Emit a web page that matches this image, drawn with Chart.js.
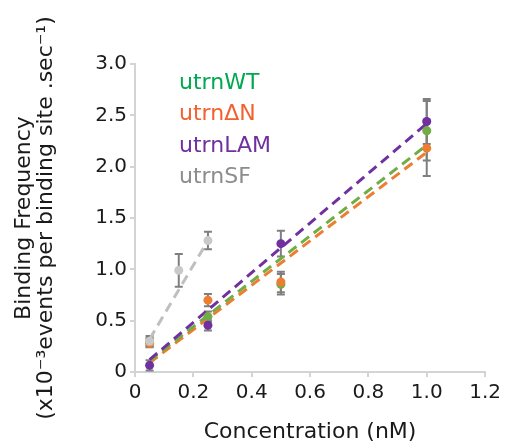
<!DOCTYPE html>
<html>
<head>
<meta charset="utf-8">
<script src="https://cdn.jsdelivr.net/npm/chart.js@4.4.0/dist/chart.umd.min.js"></script>
<style>
  html, body { margin: 0; padding: 0; background: #fff; }
  #wrap { width: 505px; height: 444px; }
</style>
</head>
<body>
<div id="wrap"><canvas id="chart"></canvas></div>
<script>
// values
var conc = [0.05, 0.25, 0.5, 1.0];
var sfConc = [0.05, 0.15, 0.25];

var wtY = [0.29, 0.54, 0.855, 2.35];
var wtErr = [0.04, 0.05, 0.10, 0.29];
var dnY = [0.28, 0.70, 0.877, 2.18];
var dnErr = [0.04, 0.06, 0.10, 0.27];
var lamY = [0.065, 0.455, 1.25, 2.44];
var lamErr = [0.05, 0.05, 0.125, 0.22];
var sfY = [0.30, 0.99, 1.28];
var sfErr = [0.05, 0.16, 0.085];

// trendline end points
var trendX = [0.05, 1.0];
var wtTrend = [0.11, 2.21];
var dnTrend = [0.09, 2.14];
var lamTrend = [0.12, 2.42];
var sfTrendX = [0.05, 0.25];
var sfTrend = [0.32, 1.28];

var labels = ['utrnWT', 'utrn\u0394N', 'utrnLAM', 'utrnSF'];
var labelColors = ['#00a84f', '#f4602e', '#7030a0', '#8c8c8c'];

function pts(xs, ys) {
  return xs.map(function (x, i) { return { x: x, y: ys[i] }; });
}

var FONT = 'DejaVu Sans';

var errorBars = {
  id: 'errorBars',
  beforeDatasetsDraw: function (chart) {
    var ctx = chart.ctx;
    var xs = chart.scales.x, ys = chart.scales.y;
    ctx.save();
    ctx.strokeStyle = '#7f7f7f';
    ctx.lineWidth = 2;
    chart.data.datasets.forEach(function (ds) {
      if (!ds.errors) return;
      ds.data.forEach(function (p, i) {
        var px = xs.getPixelForValue(p.x);
        var top = ys.getPixelForValue(p.y + ds.errors[i]);
        var bot = ys.getPixelForValue(p.y - ds.errors[i]);
        ctx.beginPath();
        ctx.moveTo(px, top); ctx.lineTo(px, bot);
        ctx.moveTo(px - 4, top); ctx.lineTo(px + 4, top);
        ctx.moveTo(px - 4, bot); ctx.lineTo(px + 4, bot);
        ctx.stroke();
      });
    });
    ctx.restore();
  }
};

var legendText = {
  id: 'legendText',
  afterDraw: function (chart) {
    var ctx = chart.ctx;
    var a = chart.chartArea;
    ctx.save();
    ctx.font = '22px "' + FONT + '"';
    ctx.textBaseline = 'middle';
    labels.forEach(function (t, i) {
      ctx.fillStyle = labelColors[i];
      ctx.fillText(t, a.left + 44, a.top + 19 + i * 31.5);
    });
    ctx.restore();
  }
};

function tickFmt(v) {
  return v === 0 ? '0' : v.toFixed(1);
}

var ctx = document.getElementById('chart');
var myChart = new Chart(ctx, {
  type: 'scatter',
  data: {
    datasets: [
      { label: labels[3], data: pts(sfConc, sfY), errors: sfErr, order: 0,
        pointRadius: 4.5, pointBackgroundColor: '#c9c9c9', pointBorderWidth: 0, showLine: false },
      { label: labels[2], data: pts(conc, lamY), errors: lamErr, order: 1,
        pointRadius: 4.5, pointBackgroundColor: '#7030a0', pointBorderWidth: 0, showLine: false },
      { label: labels[1], data: pts(conc, dnY), errors: dnErr, order: 2,
        pointRadius: 4.5, pointBackgroundColor: '#ed7d31', pointBorderWidth: 0, showLine: false },
      { label: labels[0], data: pts(conc, wtY), errors: wtErr, order: 3,
        pointRadius: 4.5, pointBackgroundColor: '#70ad47', pointBorderWidth: 0, showLine: false },
      { label: 'sfFit', data: pts(sfTrendX, sfTrend), order: 4, showLine: true, pointRadius: 0,
        borderColor: '#bfbfbf', borderWidth: 3, borderDash: [10, 6] },
      { label: 'lamFit', data: pts(trendX, lamTrend), order: 5, showLine: true, pointRadius: 0,
        borderColor: '#7030a0', borderWidth: 3, borderDash: [10, 6] },
      { label: 'wtFit', data: pts(trendX, wtTrend), order: 6, showLine: true, pointRadius: 0,
        borderColor: '#70ad47', borderWidth: 3, borderDash: [10, 6] },
      { label: 'dnFit', data: pts(trendX, dnTrend), order: 7, showLine: true, pointRadius: 0,
        borderColor: '#ed7d31', borderWidth: 3, borderDash: [10, 6] }
    ]
  },
  options: {
    responsive: true,
    maintainAspectRatio: false,
    animation: false,
    layout: { padding: { top: 64, right: 17, left: 0, bottom: 0 } },
    plugins: {
      legend: { display: false },
      tooltip: { enabled: false }
    },
    scales: {
      x: {
        type: 'linear',
        min: 0, max: 1.2,
        afterFit: function (s) { s.height = 72; },
        ticks: { stepSize: 0.2, callback: tickFmt, color: '#1a1a1a', padding: 4,
          maxRotation: 0, font: { family: FONT, size: 20 } },
        grid: { drawOnChartArea: false, drawTicks: true, tickLength: 5, color: '#d4d4d4', lineWidth: 2 },
        border: { color: '#d4d4d4', width: 2 },
        title: { display: true, text: 'Concentration (nM)', color: '#1a1a1a',
          font: { family: FONT, size: 22, lineHeight: 1 }, padding: { top: 0, bottom: 1 } }
      },
      y: {
        min: 0, max: 3.0,
        afterFit: function (s) { s.width = 135; },
        ticks: { stepSize: 0.5, callback: tickFmt, color: '#1a1a1a', padding: 3,
          font: { family: FONT, size: 20 } },
        grid: { drawOnChartArea: false, drawTicks: true, tickLength: 5, color: '#d4d4d4', lineWidth: 2 },
        border: { color: '#d4d4d4', width: 2 },
        title: { display: true,
          text: ['Binding Frequency', '(x10\u207B\u00B3events per binding site .sec\u207B\u00B9)'],
          color: '#1a1a1a', font: { family: FONT, size: 22, lineHeight: 1 },
          padding: { top: 13, bottom: 0 } }
      }
    }
  },
  plugins: [errorBars, legendText]
});
</script>
</body>
</html>
